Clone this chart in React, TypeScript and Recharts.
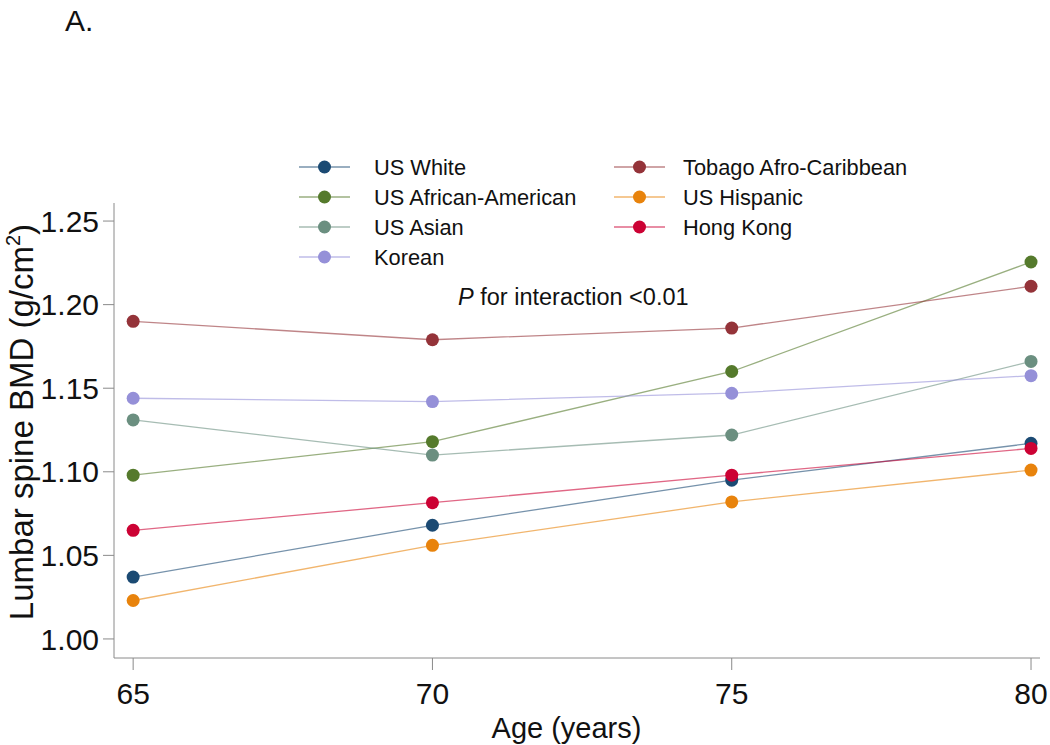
import React from 'react';
import { LineChart, Line, XAxis, YAxis, Customized } from 'recharts';

const ages = [65, 70, 75, 80];
const yTicks = [1.0, 1.05, 1.1, 1.15, 1.2, 1.25];

const usWhite = [1.037, 1.068, 1.095, 1.117];
const usAfricanAmerican = [1.098, 1.118, 1.160, 1.2255];
const usAsian = [1.131, 1.110, 1.122, 1.166];
const korean = [1.144, 1.142, 1.147, 1.1575];
const tobago = [1.190, 1.179, 1.186, 1.211];
const usHispanic = [1.023, 1.056, 1.082, 1.101];
const hongKong = [1.065, 1.0815, 1.098, 1.114];

const seriesNames = [
  'US White',
  'US African-American',
  'US Asian',
  'Korean',
  'Tobago Afro-Caribbean',
  'US Hispanic',
  'Hong Kong',
];
const seriesValues = [usWhite, usAfricanAmerican, usAsian, korean, tobago, usHispanic, hongKong];
const seriesColors = ['#1b4a73', '#557a2c', '#6b8f80', '#9590d8', '#943339', '#e8830c', '#cc0234'];

const keys = ['white', 'aa', 'asian', 'korean', 'tobago', 'hispanic', 'hk'];

const data = ages.map((age, i) => {
  const row: Record<string, number> = { age };
  keys.forEach((k, s) => {
    row[k] = seriesValues[s][i];
  });
  return row;
});

const FONT = '"Liberation Sans", Arial, Helvetica, sans-serif';

const LegendBlock = () => {
  const col1 = [0, 1, 2, 3];
  const col2 = [4, 5, 6];
  const rowYs = [167, 197, 227, 257];
  const item = (s: number, row: number, x0: number, tx: number) => (
    <g key={s}>
      <line x1={x0} x2={x0 + 51} y1={rowYs[row]} y2={rowYs[row]} stroke={seriesColors[s]} strokeOpacity={0.6} strokeWidth={1.3} />
      <circle cx={x0 + 25.5} cy={rowYs[row]} r={6.5} fill={seriesColors[s]} />
      <text x={tx} y={rowYs[row] + 7.5} fontSize={21.8} fill="#111" fontFamily={FONT}>
        {seriesNames[s]}
      </text>
    </g>
  );
  return (
    <g>
      {col1.map((s, r) => item(s, r, 299, 374))}
      {col2.map((s, r) => item(s, r, 614, 683))}
    </g>
  );
};

const Annotations = () => (
  <g fontFamily={FONT} fill="#111">
    <LegendBlock />
    <text x={65} y={31} fontSize={30}>A.</text>
    <text x={458} y={305} fontSize={23.5}>
      <tspan fontStyle="italic">P</tspan> for interaction &lt;0.01
    </text>
    <text x={566.5} y={738} fontSize={29} textAnchor="middle">Age (years)</text>
    <text x={0} y={0} fontSize={33} textAnchor="middle" transform="translate(33,422) rotate(-90)">
      Lumbar spine BMD (g/cm
      <tspan fontSize={20} dy={-13}>2</tspan>
      <tspan dy={13}>)</tspan>
    </text>
  </g>
);

export default function App() {
  return (
    <div style={{ position: 'absolute', left: 0, top: 0, width: 1050, height: 745, background: '#fff' }}>
      <LineChart width={1050} height={745} data={data} margin={{ top: 203, right: 10, left: 0, bottom: 0 }}>
        <XAxis
          dataKey="age"
          type="number"
          domain={[64.68, 80.15]}
          ticks={ages}
          allowDataOverflow
          height={87}
          tickSize={12}
          tickMargin={13}
          stroke="#8a8a8a"
          tick={{ fontSize: 30, fill: '#111', fontFamily: FONT }}
        />
        <YAxis
          type="number"
          domain={[0.9886, 1.2608]}
          ticks={yTicks}
          allowDataOverflow
          width={114}
          tickSize={11}
          tickMargin={4}
          stroke="#8a8a8a"
          tickFormatter={(v: number) => v.toFixed(2)}
          tick={{ fontSize: 30, fill: '#111', fontFamily: FONT }}
        />
        {keys.map((k, s) => (
          <Line
            key={k}
            type="linear"
            dataKey={k}
            name={seriesNames[s]}
            stroke={seriesColors[s]}
            strokeOpacity={0.6}
            strokeWidth={1.3}
            dot={{ r: 6.5, fill: seriesColors[s], stroke: 'none', strokeWidth: 0, fillOpacity: 1 }}
            activeDot={false}
            isAnimationActive={false}
          />
        ))}
        <Customized component={Annotations} />
      </LineChart>
    </div>
  );
}
